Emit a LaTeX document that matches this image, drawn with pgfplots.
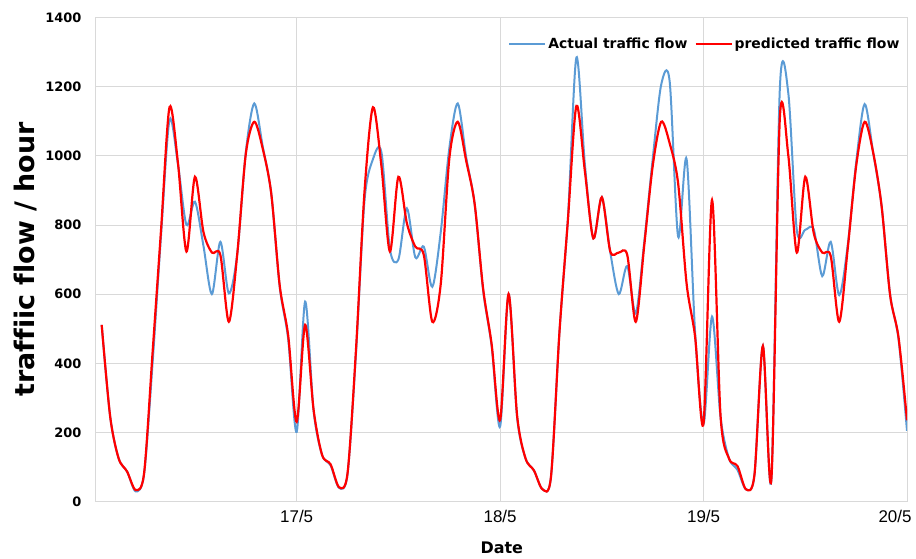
\documentclass[border=0pt]{standalone}
\usepackage{fontspec}
\setmainfont{DejaVu Sans}
\newfontfamily\tickfont{Liberation Sans}
\newfontfamily\labfont[Ligatures=NoCommon]{DejaVu Sans}
\usepackage{pgfplots}
\usepackage{pgfplotstable}
\pgfplotsset{compat=1.18}
\definecolor{actual}{RGB}{91,155,213}
\definecolor{pred}{RGB}{255,0,0}
\definecolor{gridc}{RGB}{217,217,217}

\pgfplotstableread{
h act pred
1 511 511
2 246 246
3 125 125
4 87 87
5 30 34
6 80 82
7 400 430
8 770 785
9 1103 1140
10 975 978
11 800 723
12 867 939
13 740 780
14 600 720
15 751 713
16 602 520
17 718 718
18 1010 1005
19 1151 1098
20 1026 1020
21 891 891
22 621 625
23 470 480
24 202 231
25 578 511
26 262 265
27 135 135
28 105 108
29 40 42
30 80 82
31 430 440
32 870 895
33 990 1140
34 1010 970
35 730 723
36 700 939
37 848 805
38 706 737
39 737 713
40 621 520
41 780 630
42 1020 990
43 1151 1098
44 995 985
45 860 860
46 610 615
47 450 455
48 217 236
49 600 600
50 245 250
51 125 125
52 90 90
53 36 36
54 72 72
55 490 490
56 820 815
57 1284 1144
58 975 955
59 761 761
60 880 880
61 720 723
62 600 720
63 681 713
64 544 520
65 750 740
66 990 970
67 1205 1098
68 1215 1036
69 766 920
70 990 630
71 490 477
72 225 227
73 535 872
74 245 250
75 125 125
76 92 103
77 36 36
78 77 77
79 450 450
80 65 65
81 1195 1110
82 1180 1000
83 785 720
84 786 939
85 787 776
86 652 720
87 751 710
88 597 520
89 740 730
90 980 970
91 1149 1098
92 1010 1010
93 855 855
94 600 598
95 470 475
96 205 235
}\flowdata

\begin{document}
\begin{tikzpicture}
\begin{axis}[
  scale only axis,
  width=812bp, height=484.4bp,
  xmin=0.21, xmax=96, ymin=0, ymax=1400,
  axis line style={draw=gridc, line width=0.8bp},
  grid=major,
  grid style={draw=gridc, line width=0.8bp},
  xtick={24,48,72}, xticklabels={17/5,18/5,19/5},
  extra x ticks={96}, extra x tick labels={20/5},
  extra x tick style={grid=none, xticklabel style={xshift=-12bp}},
  ytick={0,200,...,1400},
  tick style={draw=none},
  /pgf/number format/assume math mode=true,
  /pgf/number format/1000 sep={},
  yticklabel style={font=\fontsize{13}{13}\selectfont\bfseries, xshift=-10bp},
  xticklabel style={font=\tickfont\fontsize{17}{17}\selectfont, yshift=-5bp},
  ylabel={traffiic flow / hour},
  xlabel={Date},
  ylabel style={font=\labfont\fontsize{27}{27}\selectfont\bfseries, at={(axis description cs:-0.085,0.5)}, anchor=center},
  xlabel style={font=\fontsize{16}{16}\selectfont\bfseries, at={(axis description cs:0.501,-0.095)}, anchor=center},
  legend style={at={(axis description cs:0.997,0.945)}, anchor=east, draw=none, fill=none,
    font=\fontsize{14}{14}\selectfont\bfseries, legend columns=2,
    /tikz/every even column/.append style={column sep=5bp}},
  legend cell align=left,
  legend image code/.code={\draw[#1] (0bp,0bp) -- (36bp,0bp);},
]
\addplot[actual, line width=2bp, smooth] table[x=h,y=act]{\flowdata};
\addlegendentry{Actual traffic flow}
\addplot[pred, line width=2.2bp, smooth] table[x=h,y=pred]{\flowdata};
\addlegendentry{predicted traffic flow}
\end{axis}
\pgfresetboundingbox
\path[use as bounding box] ([xshift=-95bp,yshift=-56.3bp]current axis.south west) rectangle ([xshift=9bp,yshift=17.3bp]current axis.north east);
\end{tikzpicture}
\end{document}
